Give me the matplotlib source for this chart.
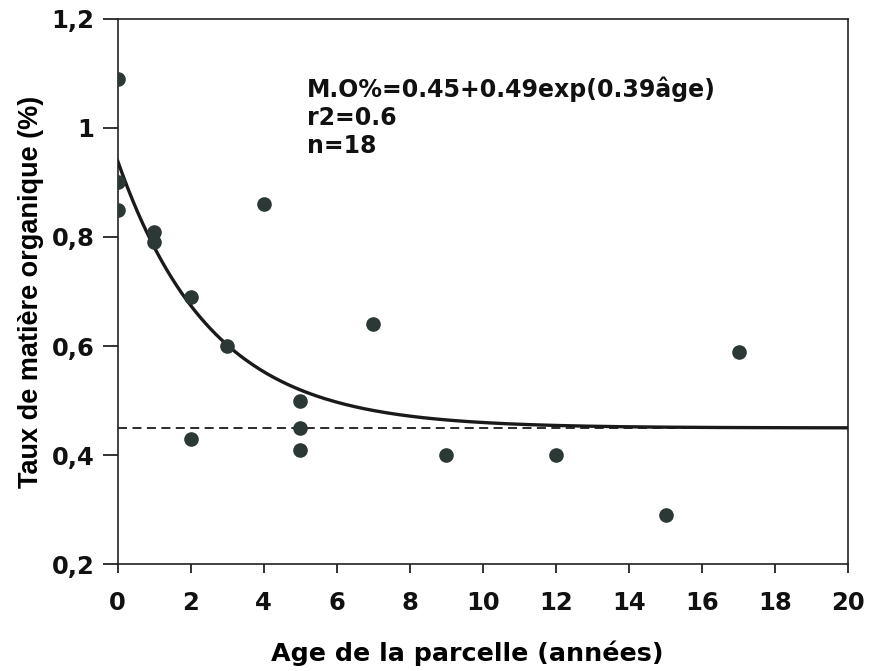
import numpy as np
import matplotlib
matplotlib.use("Agg")
import matplotlib.pyplot as plt

age = [0, 0, 0, 1, 1, 2, 2, 3, 4, 5, 5, 5, 7, 9, 12, 15, 17]
mo = [1.09, 0.90, 0.85, 0.81, 0.79, 0.69, 0.43, 0.60, 0.86, 0.50, 0.45, 0.41, 0.64, 0.40, 0.40, 0.29, 0.59]
a, b, c = 0.45, 0.49, 0.39
xticks = list(range(0, 21, 2))
yticks = [0.2, 0.4, 0.6, 0.8, 1.0, 1.2]
ylabels = ["0,2", "0,4", "0,6", "0,8", "1", "1,2"]

plt.rcParams['font.family'] = ['DejaVu Sans']
fig = plt.figure(figsize=(8.71, 6.71), dpi=100)
ax = fig.add_axes([0.135, 0.159, 0.839, 0.813])

xs = np.linspace(0, 20, 300)
ax.plot(xs, a + b * np.exp(-c * xs), color='#1a1a1a', lw=2.4, zorder=3)
ax.axhline(a, color='#1a1a1a', lw=1.3, ls=(0, (5, 3)), zorder=2)
ax.plot(age, mo, 'o', color='#2b3836', markersize=9.5, zorder=4)

ax.set_xlim(0, 20)
ax.set_ylim(0.2, 1.2)
ax.set_xticks(xticks)
ax.set_yticks(yticks)
ax.set_yticklabels(ylabels)
ax.tick_params(direction='out', width=1.2, labelsize=17.5, colors='#111111')
ax.tick_params(axis='x', length=6.5, pad=13)
ax.tick_params(axis='y', length=10.8, pad=6)
for lab in ax.get_xticklabels() + ax.get_yticklabels():
    lab.set_fontweight('bold')
for s in ax.spines.values():
    s.set_linewidth(1.2)
    s.set_color('#222222')
ax.set_xlabel("Age de la parcelle (années)", fontsize=18.3, fontweight='bold')
ax.xaxis.set_label_coords(0.478, -0.139)
ax.set_ylabel("Taux de matière organique (%)", fontsize=19.5, fontweight='bold',
              family='Liberation Sans', labelpad=5)
ax.text(0.259, 0.895, "M.O%=0.45+0.49exp(0.39âge)\nr2=0.6\nn=18", transform=ax.transAxes,
        fontsize=17, fontweight='bold', va='top', ha='left',
        linespacing=1.22, color='#111111')

fig.savefig("out.png", dpi=100)
